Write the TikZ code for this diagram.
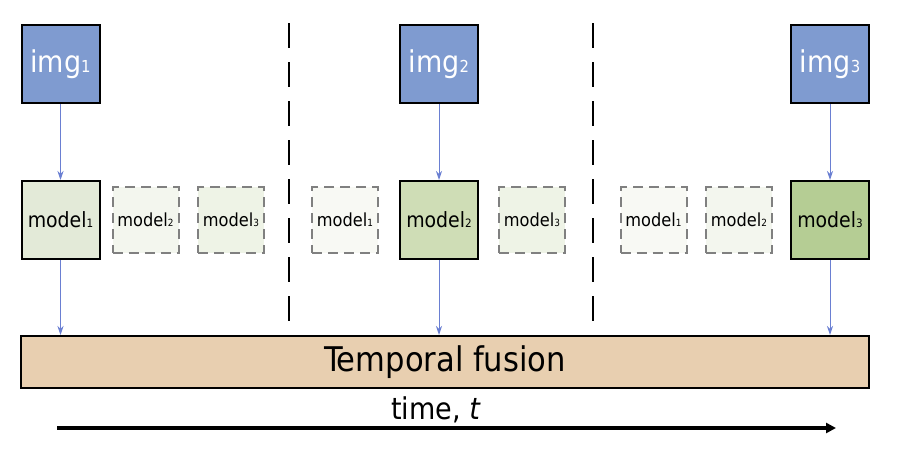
\documentclass[tikz,border=0pt]{standalone}
\usepackage{fontspec}
\setmainfont{DejaVu Sans Condensed}
\usetikzlibrary{arrows.meta}
\definecolor{imgblue}{HTML}{7F9BD0}
\definecolor{mA}{HTML}{E3EAD8}
\definecolor{mB}{HTML}{CFDDB6}
\definecolor{mC}{HTML}{B5CD94}
\definecolor{gA}{HTML}{F8F9F4}
\definecolor{gB}{HTML}{F3F6EE}
\definecolor{gC}{HTML}{EEF3E6}
\definecolor{fuse}{HTML}{E8CFB0}
\definecolor{arrblue}{HTML}{6A7FD2}
\newcommand{\sub}[1]{{\fontsize{0.55em}{0.55em}\selectfont #1}}
\begin{document}
\begin{tikzpicture}[x=1pt,y=-1pt,
  imgbox/.style={draw=black,line width=2pt,fill=imgblue,minimum width=78pt,minimum height=78pt,inner sep=0pt,text=white,font=\fontsize{30}{30}\selectfont},
  modelbox/.style={draw=black,line width=2pt,minimum width=78pt,minimum height=78pt,inner sep=0pt,font=\fontsize{21}{21}\selectfont},
  ghostbox/.style={draw=black!50,line width=2pt,dash pattern=on 10pt off 6pt,minimum width=66pt,minimum height=66pt,inner sep=0pt,font=\fontsize{18}{18}\selectfont},
  feed/.style={draw=arrblue,line width=1pt,-{Stealth[length=9pt,width=6pt]}},
  sep/.style={draw=black,line width=2pt,dash pattern=on 25pt off 14pt}
]
\useasboundingbox (0,0) rectangle (900,450);
% images
\node[imgbox] (i1) at (60.5,64) {img\sub{1}};
\node[imgbox] (i2) at (439,64) {img\sub{2}};
\node[imgbox] (i3) at (830,64) {img\sub{3}};
% column 1
\node[modelbox,fill=mA] (m11) at (60.5,220) {model\sub{1}};
\node[ghostbox,fill=gB] (m12) at (145.5,220) {model\sub{2}};
\node[ghostbox,fill=gC] (m13) at (231,220) {model\sub{3}};
% column 2
\node[ghostbox,fill=gA] (m21) at (345,220) {model\sub{1}};
\node[modelbox,fill=mB] (m22) at (439,220) {model\sub{2}};
\node[ghostbox,fill=gC] (m23) at (532,220) {model\sub{3}};
% column 3
\node[ghostbox,fill=gA] (m31) at (653.5,220) {model\sub{1}};
\node[ghostbox,fill=gB] (m32) at (739,220) {model\sub{2}};
\node[modelbox,fill=mC] (m33) at (830,220) {model\sub{3}};
% separators
\coordinate (s1t) at (289,23);
\coordinate (s1b) at (289,325);
\coordinate (s2t) at (593,23);
\coordinate (s2b) at (593,325);
\draw[sep] (s1t) -- (s1b);
\draw[sep] (s2t) -- (s2b);
% fusion
\node[draw=black,line width=2pt,fill=fuse,minimum width=848pt,minimum height=52pt,inner sep=0pt,font=\fontsize{34}{34}\selectfont] (fus) at (445,362) {Temporal fusion};
% feeds
\draw[feed] (i1) -- (m11);
\draw[feed] (i2) -- (m22);
\draw[feed] (i3) -- (m33);
\draw[feed] (m11) -- (m11 |- fus.north);
\draw[feed] (m22) -- (m22 |- fus.north);
\draw[feed] (m33) -- (m33 |- fus.north);
% time
\node[font=\fontsize{30}{30}\selectfont,inner sep=0pt] (tl) at (436,410) {time, \textit{t}};
\coordinate (ta) at (57,428);
\coordinate (tb) at (836,428);
\draw[line width=4pt,-{Triangle[length=10pt,width=10pt]}] (ta) -- (tb);
\end{tikzpicture}
\end{document}
